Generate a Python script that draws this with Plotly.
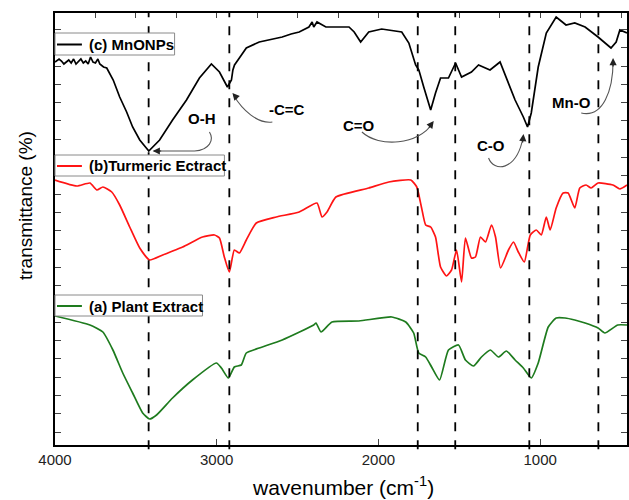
import plotly.graph_objects as go

# ---------------- data (wavenumber in cm-1, transmittance in arbitrary units, offset stacked) ----------------
wn_c = [4000, 3975, 3960, 3945, 3930, 3915, 3900, 3885, 3870, 3855, 3840, 3825, 3810, 3795, 3780, 3765,
        3750, 3735, 3723, 3700, 3680, 3640, 3600, 3557, 3520, 3476,
        3420, 3353, 3273, 3187, 3107, 3033, 2983, 2934, 2909, 2900, 2890, 2860, 2817, 2737, 2650, 2595, 2540,
        2490, 2430, 2410, 2400, 2380, 2325, 2182, 2150, 2110, 2060, 1980, 1856, 1812, 1770, 1750, 1720, 1677,
        1647, 1616, 1567, 1523, 1486, 1425, 1381, 1310, 1248, 1196, 1155, 1104, 1078, 1055, 1012, 962,
        901, 840, 786, 722, 642, 562, 530, 507, 463]
t_c = [383, 386, 384, 381, 383, 385, 382, 386, 381, 384, 386, 382, 384, 381, 388, 383,
       382, 386, 381, 378, 377, 365, 348, 333, 318, 305,
       294, 305, 325, 345, 367, 381, 373, 358, 365, 375, 380, 387, 397, 403, 406, 408, 411,
       413, 418, 423, 418, 423, 418, 418, 413, 403, 413, 416, 413, 402, 380, 375, 358, 335,
       352, 367, 367, 382, 368, 373, 380, 375, 383, 362, 345, 328, 318, 332, 378, 412,
       428, 420, 422, 418, 408, 397, 403, 415, 412]

wn_b = [4000, 3865, 3784, 3741, 3704, 3649, 3600, 3538, 3476, 3415, 3334, 3211, 3088, 3014, 2983, 2953,
        2922, 2891, 2860, 2817, 2755, 2632, 2490, 2380, 2349, 2318, 2263, 2060, 1936, 1800, 1763, 1733,
        1708, 1677, 1647, 1616, 1579, 1548, 1517, 1486, 1462, 1425, 1400, 1369, 1338, 1301, 1276, 1245,
        1196, 1165, 1135, 1098, 1061, 1024, 993, 962, 938, 901, 858, 827, 786, 755, 716, 685, 642, 550,
        507, 463]
t_b = [265, 259, 262, 255, 258, 253, 240, 218, 197, 185, 190, 198, 208, 210, 207, 188,
       173, 195, 192, 205, 222, 228, 233, 242, 228, 233, 248, 257, 263, 265, 258, 237,
       220, 218, 208, 178, 169, 175, 195, 163, 207, 187, 188, 208, 203, 220, 208, 177,
       195, 203, 193, 183, 210, 215, 210, 228, 215, 237, 252, 252, 237, 257, 260, 257, 262, 260,
       256, 260]

wn_a = [4000, 3784, 3704, 3642, 3581, 3520, 3458, 3415, 3372, 3273, 3150, 3002, 2971, 2928, 2891, 2848,
        2817, 2737, 2595, 2400, 2386, 2355, 2287, 2121, 1918, 1831, 1782, 1751, 1708, 1671, 1622, 1567,
        1505, 1462, 1412, 1363, 1308, 1258, 1209, 1155, 1104, 1055, 1012, 950, 901, 846, 786, 722, 642,
        600, 520, 463]
t_a = [129, 120, 113, 95, 72, 52, 32, 26, 30, 47, 65, 82, 77, 67, 78, 80,
       92, 97, 105, 120, 122, 113, 123, 124, 128, 123, 112, 92, 88, 78, 65, 95,
       100, 85, 79, 88, 95, 88, 94, 85, 77, 67, 82, 118, 127, 127, 125, 122, 117,
       112, 120, 120]

series_names = ["(c) MnONPs", "(b)Turmeric Ectract", "(a) Plant Extract"]
series_colors = ["#000000", "#ff1414", "#1e7b1e"]

peak_lines = [3421, 2922, 1757, 1525, 1067, 640]

band_labels = ["O-H", "-C=C", "C=O", "C-O", "Mn-O"]
band_label_x = [3088, 2564, 2120, 1301, 808]
band_label_y = [327, 336, 320, 300, 343]
# arrow tips (wavenumber, transmittance) and curved arrow paths
arrow_tip_x = [3396, 2903, 1658, 1103, 549]
arrow_tip_y = [294, 352, 324, 311, 387]
arrow_ax = [10, 6, -6, -1, 0]
arrow_ay = [0, 7, 8, 10, 10]
arrow_paths = [
    [(3045, 313), (3014, 305), (3045, 295), (3137, 294), (3390, 294)],
    [(2656, 323), (2749, 321), (2841, 335), (2897, 350)],
    [(2102, 313), (1997, 297), (1750, 300), (1664, 322)],
    [(1319, 287), (1288, 273), (1147, 273), (1105, 308)],
    [(746, 332), (610, 327), (549, 355), (549, 384)],
]

FONT = "Arial, Liberation Sans, sans-serif"

# plot area in pixels (for placing the legend boxes)
W, H = 629, 500
ML, MR, MT, MB = 55, 0, 13, 55
PW, PH = W - ML - MR, H - MT - MB


def px(x):
    return (x - ML) / PW


def py(y):
    return (H - MB - y) / PH


fig = go.Figure()
shapes_kind = ["linear", "spline", "spline"]
for wn, t, name, col, shp in zip([wn_c, wn_b, wn_a], [t_c, t_b, t_a], series_names, series_colors, shapes_kind):
    line = dict(color=col, width=1.7, shape=shp)
    if shp == "spline":
        line["smoothing"] = 0.5
    fig.add_trace(go.Scatter(x=wn, y=t, mode="lines", name=name, showlegend=False, line=line))

# dummy trace on top axis for minor ticks
fig.add_trace(go.Scatter(x=[4000], y=[0], xaxis="x2", mode="markers", marker=dict(opacity=0),
                         showlegend=False, hoverinfo="skip"))

for w in peak_lines:
    fig.add_shape(type="line", xref="x", yref="paper", x0=w, x1=w, y0=-0.01, y1=1,
                  line=dict(color="black", width=1.8, dash="dash"))

for pts in arrow_paths:
    p = "M {},{}".format(*pts[0])
    if len(pts) >= 4:
        p += " C {},{} {},{} {},{}".format(*pts[1], *pts[2], *pts[3])
    for q in pts[4:]:
        p += " L {},{}".format(*q)
    fig.add_shape(type="path", xref="x", yref="y", path=p, line=dict(color="#555555", width=1.1))

for txt, x, y in zip(band_labels, band_label_x, band_label_y):
    fig.add_annotation(x=x, y=y, xref="x", yref="y", text="<b>" + txt + "</b>", showarrow=False,
                       font=dict(family=FONT, size=15, color="black"))

for x, y, ax, ay in zip(arrow_tip_x, arrow_tip_y, arrow_ax, arrow_ay):
    fig.add_annotation(x=x, y=y, xref="x", yref="y", text="", showarrow=True, arrowhead=2,
                       arrowsize=1.2, arrowwidth=1.2, arrowcolor="#222222", ax=ax, ay=ay, standoff=0)

# legend boxes (one per curve, as in the original figure)
legend_boxes = [(55, 33, 175, 55), (55, 155, 225, 176), (55, 295, 203, 316)]
for (x0, y0, x1, y1), name, col in zip(legend_boxes, series_names, series_colors):
    fig.add_shape(type="rect", xref="paper", yref="paper", x0=px(x0), x1=px(x1), y0=py(y1), y1=py(y0),
                  fillcolor="white", line=dict(color="#8a8a8a", width=1), layer="above")
    ym = (y0 + y1) / 2 + 0.5
    fig.add_shape(type="line", xref="paper", yref="paper", x0=px(57), x1=px(82), y0=py(ym), y1=py(ym),
                  line=dict(color=col, width=2), layer="above")
    fig.add_annotation(xref="paper", yref="paper", x=px(87), y=py(ym), xanchor="left", yanchor="middle",
                       text="<b>" + name + "</b>", showarrow=False,
                       font=dict(family=FONT, size=15, color="black"))

fig.add_annotation(xref="paper", yref="paper", x=0, y=py(206), xshift=-30, xanchor="center",
                   yanchor="middle", text="transmittance (%)",
                   textangle=-90, showarrow=False, font=dict(family=FONT, size=19, color="black"))
fig.add_annotation(xref="paper", yref="paper", x=px(344), y=0, yshift=-41, xanchor="center",
                   yanchor="middle", text="wavenumber (cm<sup>-1</sup>)", showarrow=False,
                   font=dict(family=FONT, size=21, color="black"))

fig.update_layout(
    width=W, height=H,
    margin=dict(l=ML, r=MR, t=MT, b=MB),
    paper_bgcolor="white", plot_bgcolor="white",
    showlegend=False,
    xaxis=dict(range=[4000, 463], tickvals=[4000, 3000, 2000, 1000], ticks="inside", ticklen=6,
               tickwidth=1.2, showline=True, linecolor="black", linewidth=1.5, showgrid=False,
               zeroline=False, tickfont=dict(family=FONT, size=15, color="#222222")),
    xaxis2=dict(range=[4000, 463], overlaying="x", side="top", dtick=250, tick0=4000, ticks="inside",
                ticklen=5, tickwidth=1.2, showticklabels=False, showline=True, linecolor="black",
                linewidth=1.5, showgrid=False, zeroline=False),
    yaxis=dict(range=[0, 432], tick0=13, dtick=18.3, ticks="inside", ticklen=6, tickwidth=1.2,
               showticklabels=False, showline=True, linecolor="black", linewidth=1.5, mirror="ticks",
               showgrid=False, zeroline=False),
)

fig.write_html("out.html")
